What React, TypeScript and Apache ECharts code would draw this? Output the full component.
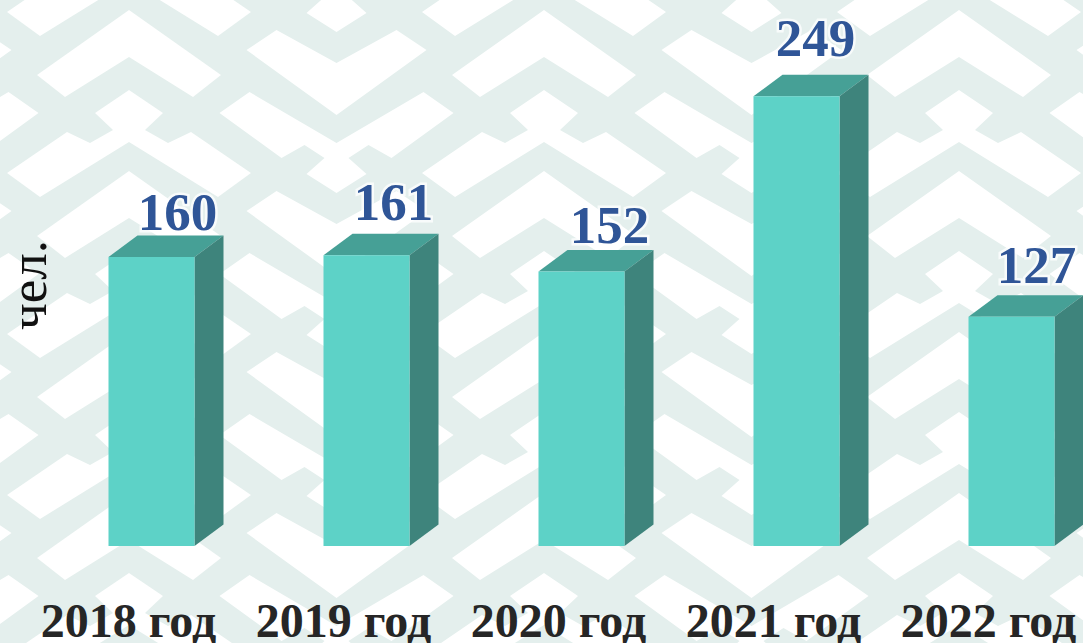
import React, { useEffect, useRef } from "react";
import * as echarts from "echarts";

const categories = ["2018 год", "2019 год", "2020 год", "2021 год", "2022 год"];
const values = [160, 161, 152, 249, 127];
const unitLabel = "чел.";

const labelShiftX = [26, 27, 28, 19, 25];
const labelShiftY = [-45, -53, -46, -58, -52];

const SERIF = '"Liberation Serif", "Times New Roman", serif';
const PALE = "#E4EFED";
const FRONT = "#5DD2C7";
const TOP = "#46A096";
const SIDE = "#3E847C";
const BLUE = "#2F5597";

const BAR_W = 86;
const DEPTH_X = 29;
const DEPTH_Y = 21.5;
const BAR_SHIFT = 23;

const chevron = [[-92, 75], [0, 10], [92, 75], [64, 97], [0, 57], [-64, 97]];
const armDiamond = [[-122, 173], [-62, 132], [-39, 143], [-16, 130], [-34, 113], [0, 90], [34, 113], [16, 130], [39, 143], [62, 132], [122, 173], [89, 197], [0, 142], [-89, 197]];
const vee = [[-90, 50], [-60, 30], [0, 63], [60, 30], [90, 50], [0, 115]];
const bigVee = [[-117, 113], [-87, 92], [0, 143], [87, 92], [117, 113], [55, 158], [32, 145], [12, 158], [30, 174], [0, 193], [-30, 174], [-12, 158], [-32, 145], [-55, 158]];

function backgroundPattern() {
  const out: any[] = [];
  const add = (pts: number[][], ax: number, dy: number) =>
    out.push({
      type: "polygon",
      silent: true,
      shape: { points: pts.map(([x, y]) => [ax + x, y + dy]) },
      style: { fill: "#FFFFFF" },
    });
  for (let k = -1; k <= 4; k++) {
    for (let j = -1; j <= 2; j++) {
      const dy = 161 * k;
      add(chevron, 129 + 415 * j, dy);
      add(armDiamond, 129 + 415 * j, dy);
      add(vee, 336.5 + 415 * j, dy);
      add(bigVee, 336.5 + 415 * j, dy);
    }
  }
  return out;
}

export default function App() {
  const ref = useRef<HTMLDivElement>(null);
  useEffect(() => {
    const chart = echarts.init(ref.current!, undefined, { renderer: "svg" });
    chart.setOption({
      animation: false,
      backgroundColor: PALE,
      grid: { left: 128.5, right: 94.5, top: 4.2, bottom: 97, outerBoundsMode: "none" },
      xAxis: {
        type: "category",
        boundaryGap: false,
        data: categories,
        axisLine: { show: false },
        axisTick: { show: false },
        axisLabel: {
          interval: 0,
          margin: 54,
          color: "#262626",
          fontFamily: SERIF,
          fontWeight: "bold",
          fontSize: 48,
          lineHeight: 40,
        },
      },
      yAxis: { type: "value", min: 0, max: 300, show: false },
      graphic: [
        ...backgroundPattern(),
        {
          type: "text",
          x: 28,
          y: 285,
          rotation: Math.PI / 2,
          style: {
            text: unitLabel,
            fill: "#111111",
            fontFamily: SERIF,
            fontSize: 53,
            align: "center",
            verticalAlign: "middle",
          },
        },
      ],
      series: [
        {
          type: "custom",
          data: values.map((v, i) => [i, v]),
          clip: false,
          encode: { x: 0, y: 1 },
          renderItem: (_: any, api: any) => {
            const i = api.value(0);
            const v = api.value(1);
            const [cx, yTop] = api.coord([i, v]);
            const [, yBase] = api.coord([i, 0]);
            const c = cx + BAR_SHIFT;
            const l = c - BAR_W / 2;
            const r = c + BAR_W / 2;
            return {
              type: "group",
              children: [
                {
                  type: "polygon",
                  shape: { points: [[l, yTop], [l + DEPTH_X, yTop - DEPTH_Y], [r + DEPTH_X, yTop - DEPTH_Y], [r, yTop]] },
                  style: { fill: TOP },
                },
                {
                  type: "polygon",
                  shape: { points: [[r, yTop], [r + DEPTH_X, yTop - DEPTH_Y], [r + DEPTH_X, yBase - DEPTH_Y], [r, yBase]] },
                  style: { fill: SIDE },
                },
                {
                  type: "rect",
                  shape: { x: l, y: yTop, width: BAR_W, height: yBase - yTop },
                  style: { fill: FRONT },
                },
                {
                  type: "text",
                  style: {
                    text: String(v),
                    x: c + labelShiftX[i],
                    y: yTop + labelShiftY[i],
                    fill: BLUE,
                    fontFamily: SERIF,
                    fontWeight: "bold",
                    fontSize: 53,
                    align: "center",
                    verticalAlign: "middle",
                    stroke: "rgba(255,255,255,0.75)",
                    lineWidth: 5,
                  },
                },
              ],
            };
          },
        },
      ],
    });
    return () => chart.dispose();
  }, []);
  return <div ref={ref} style={{ position: "fixed", left: 0, top: 0, width: 1083, height: 643 }} />;
}
